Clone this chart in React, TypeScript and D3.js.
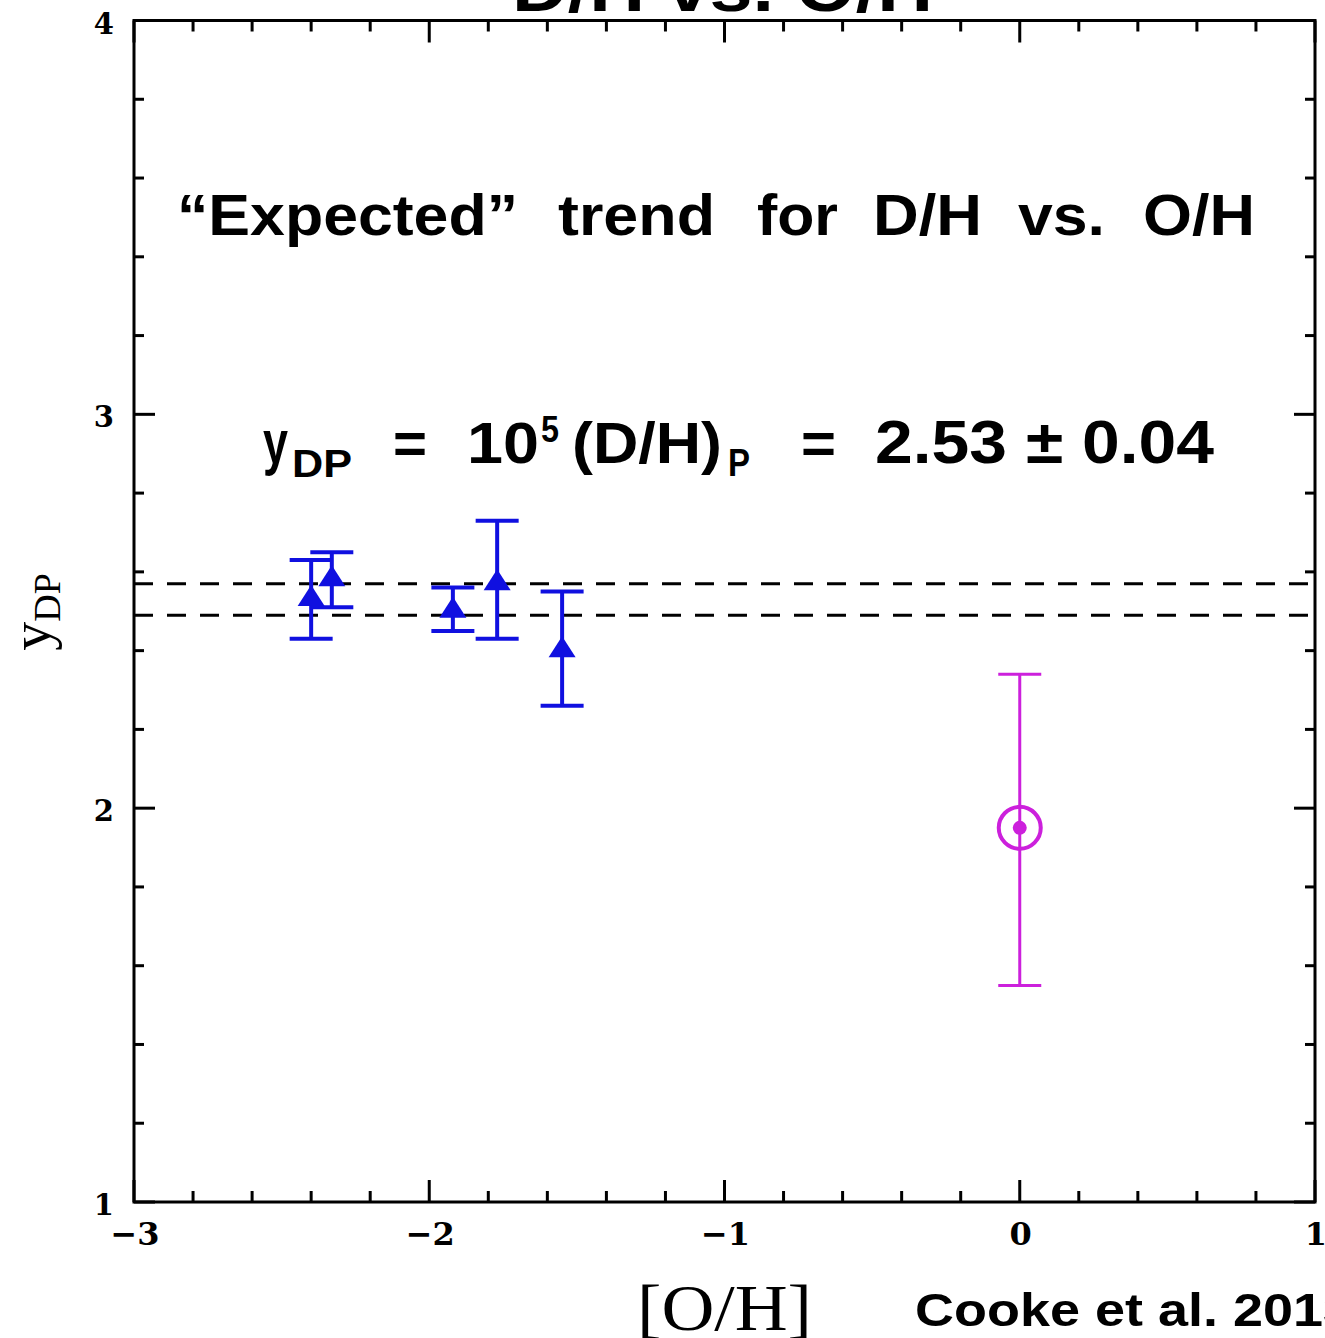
import React from "react";
import * as d3 from "d3";

// ---- data ----
const blueX = [-2.4, -2.33, -1.92, -1.77, -1.55];
const blueY = [2.54, 2.59, 2.51, 2.58, 2.41];
const blueHi = [2.63, 2.65, 2.56, 2.73, 2.55];
const blueLo = [2.43, 2.51, 2.45, 2.43, 2.26];

const solarX = [0];
const solarY = [1.95];
const solarHi = [2.34];
const solarLo = [1.55];

const meanY = 2.53;
const meanErr = 0.04;

const xTickLabels = ["−3", "−2", "−1", "0", "1"];
const xMajor = [-3, -2, -1, 0, 1];
const yTickLabels = ["1", "2", "3", "4"];
const yMajor = [1, 2, 3, 4];

const W = 1325;
const H = 1338;
const L = 134, R = 1315, T = 20.5, B = 1202;

const BLUE = "#1010e0";
const MAG = "#cc20dc";
const SANS = "'Liberation Sans', Arial, sans-serif";
const SERIF = "'DejaVu Serif', serif";
const LSERIF = "'Liberation Serif', 'Times New Roman', serif";

export default function App() {
  const x = d3.scaleLinear().domain([-3, 1]).range([L, R]);
  const y = d3.scaleLinear().domain([1, 4]).range([B, T]);

  const isMajor = (v: number) => Math.abs(v - Math.round(v)) < 1e-6;
  const xt = x.ticks(20);
  const yt = y.ticks(15);

  const triPath = (cx: number, cy: number) => {
    const w = 27, h = 21;
    return `M${cx},${cy - h / 2}L${cx + w / 2},${cy + h / 2}L${cx - w / 2},${cy + h / 2}Z`;
  };

  const cap = 21.5;

  const eq = [
    { t: "=", x: 393, w: 34, size: 58, base: 463 },
    { t: "10", x: 467, w: 72, size: 58, base: 463 },
    { t: "5", x: 541, w: 18, size: 36, base: 442 },
    { t: "(D/H)", x: 572, w: 150, size: 58, base: 463 },
    { t: "P", x: 728, w: 22, size: 38, base: 476 },
    { t: "=", x: 801, w: 35, size: 58, base: 463 },
    { t: "2.53 ± 0.04", x: 875, w: 339, size: 62, base: 463 },
  ];

  const words = [
    { t: "“Expected”", x: 177, w: 341 },
    { t: "trend", x: 558, w: 157 },
    { t: "for", x: 757, w: 81 },
    { t: "D/H", x: 873, w: 109 },
    { t: "vs.", x: 1018, w: 87 },
    { t: "O/H", x: 1143, w: 112 },
  ];

  return (
    <svg
      width={W}
      height={H}
      style={{ position: "absolute", left: 0, top: 0, background: "#fff" }}
    >
      <rect x={0} y={0} width={W} height={H} fill="#fff" />
      {/* title (cut off at top) */}
      <text
        x={512}
        y={11}
        fontFamily={SANS}
        fontWeight="bold"
        fontSize={66}
        textLength={421}
        lengthAdjust="spacingAndGlyphs"
      >
        D/H vs. O/H
      </text>

      {/* dashed mean lines */}
      {[meanY + meanErr, meanY - meanErr].map((v, i) => (
        <line
          key={i}
          x1={L}
          x2={R}
          y1={y(v)}
          y2={y(v)}
          stroke="#000"
          strokeWidth={3}
          strokeDasharray="19,14"
        />
      ))}

      {/* frame */}
      <rect x={L} y={T} width={R - L} height={B - T} fill="none" stroke="#000" strokeWidth={3} />

      {/* x ticks */}
      {xt.map((v, i) => {
        const len = isMajor(v) ? 22 : 11;
        return (
          <g key={"xt" + i}>
            <line x1={x(v)} x2={x(v)} y1={B} y2={B - len} stroke="#000" strokeWidth={3} />
            <line x1={x(v)} x2={x(v)} y1={T} y2={T + len} stroke="#000" strokeWidth={3} />
          </g>
        );
      })}
      {/* y ticks */}
      {yt.map((v, i) => {
        const len = isMajor(v) ? 21 : 10;
        return (
          <g key={"yt" + i}>
            <line x1={L} x2={L + len} y1={y(v)} y2={y(v)} stroke="#000" strokeWidth={3} />
            <line x1={R} x2={R - len} y1={y(v)} y2={y(v)} stroke="#000" strokeWidth={3} />
          </g>
        );
      })}

      {/* tick labels */}
      {xMajor.map((v, i) => (
        <text
          key={"xl" + i}
          x={x(v) + 1}
          y={1245}
          textAnchor="middle"
          fontFamily={SERIF}
          fontWeight="bold"
          fontSize={32}
        >
          {xTickLabels[i]}
        </text>
      ))}
      {yMajor.map((v, i) => (
        <text
          key={"yl" + i}
          x={114}
          y={y(v) + 13}
          textAnchor="end"
          fontFamily={SERIF}
          fontWeight="bold"
          fontSize={29}
        >
          {yTickLabels[i]}
        </text>
      ))}

      {/* axis labels */}
      <text
        transform={`translate(50,612) rotate(-90)`}
        textAnchor="middle"
        fontFamily={LSERIF}
        fontSize={58}
      >
        y
        <tspan fontSize={38} dy={10}>
          DP
        </tspan>
      </text>
      <text
        x={637}
        y={1330}
        fontFamily={LSERIF}
        fontSize={66}
        textLength={175}
        lengthAdjust="spacingAndGlyphs"
      >
        [O/H]
      </text>
      <text
        x={915}
        y={1326}
        fontFamily={SANS}
        fontWeight="bold"
        fontSize={46}
        textLength={438}
        lengthAdjust="spacingAndGlyphs"
      >
        Cooke et al. 2013
      </text>

      {/* annotation: Expected trend */}
      {words.map((w, i) => (
        <text
          key={"w" + i}
          x={w.x}
          y={235}
          fontFamily={SANS}
          fontWeight="bold"
          fontSize={57}
          textLength={w.w}
          lengthAdjust="spacingAndGlyphs"
        >
          {w.t}
        </text>
      ))}

      {/* equation */}
      <text x={263} y={463} fontFamily={SANS} fontWeight="bold" fontSize={62} textLength={25} lengthAdjust="spacingAndGlyphs">
        y
      </text>
      <text x={292} y={477} fontFamily={SANS} fontWeight="bold" fontSize={38} textLength={60} lengthAdjust="spacingAndGlyphs">
        DP
      </text>
      {eq.map((p, i) => (
        <text
          key={"eq" + i}
          x={p.x}
          y={p.base}
          fontFamily={SANS}
          fontWeight="bold"
          fontSize={p.size}
          textLength={p.w}
          lengthAdjust="spacingAndGlyphs"
        >
          {p.t}
        </text>
      ))}

      {/* blue error bars and triangles */}
      {blueX.map((v, i) => {
        const cx = x(v);
        return (
          <g key={"b" + i} stroke={BLUE} strokeWidth={4}>
            <line x1={cx} x2={cx} y1={y(blueHi[i])} y2={y(blueLo[i])} />
            <line x1={cx - cap} x2={cx + cap} y1={y(blueHi[i])} y2={y(blueHi[i])} />
            <line x1={cx - cap} x2={cx + cap} y1={y(blueLo[i])} y2={y(blueLo[i])} />
            <path d={triPath(cx, y(blueY[i]))} fill={BLUE} stroke="none" />
          </g>
        );
      })}

      {/* solar point */}
      {solarX.map((v, i) => {
        const cx = x(v);
        const cy = y(solarY[i]);
        return (
          <g key={"s" + i} stroke={MAG} strokeWidth={3}>
            <line x1={cx} x2={cx} y1={y(solarHi[i])} y2={y(solarLo[i])} />
            <line x1={cx - cap} x2={cx + cap} y1={y(solarHi[i])} y2={y(solarHi[i])} />
            <line x1={cx - cap} x2={cx + cap} y1={y(solarLo[i])} y2={y(solarLo[i])} />
            <circle cx={cx} cy={cy} r={21} fill="none" strokeWidth={4} />
            <circle cx={cx} cy={cy} r={7} fill={MAG} stroke="none" />
          </g>
        );
      })}
    </svg>
  );
}
